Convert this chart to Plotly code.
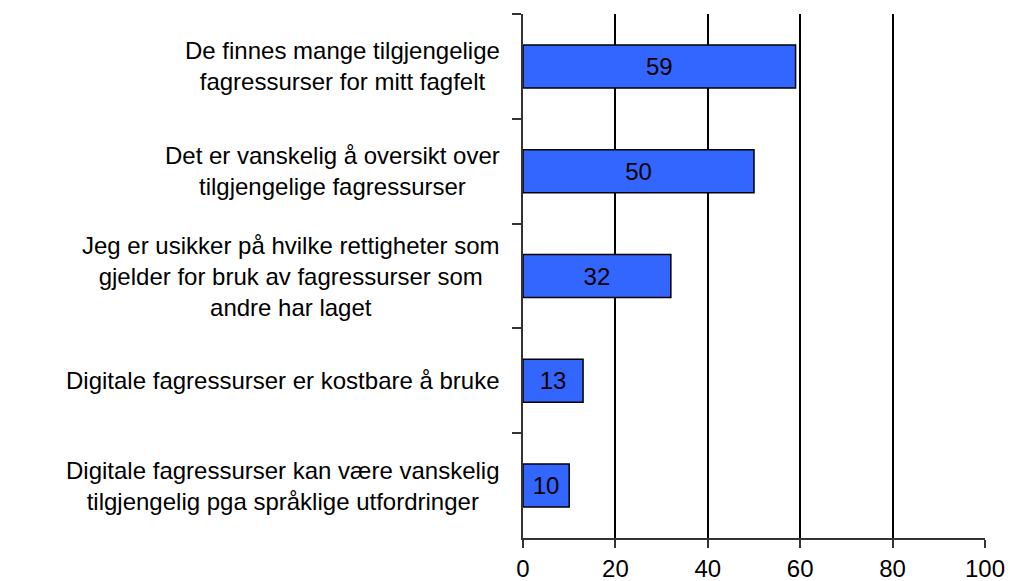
import plotly.graph_objects as go

categories = [
    "De finnes mange tilgjengelige<br>fagressurser for mitt fagfelt",
    "Det er vanskelig å oversikt over<br>tilgjengelige fagressurser",
    "Jeg er usikker på hvilke rettigheter som<br>gjelder for bruk av fagressurser som<br>andre har laget",
    "Digitale fagressurser er kostbare å bruke",
    "Digitale fagressurser kan være vanskelig<br>tilgjengelig pga språklige utfordringer",
]
values = [59, 50, 32, 13, 10]
x_ticks = [0, 20, 40, 60, 80, 100]

FONT = "Liberation Sans, Arial, sans-serif"

fig = go.Figure()
fig.add_trace(go.Bar(
    x=values,
    y=categories,
    orientation="h",
    marker=dict(color="#3366FF", line=dict(color="#000000", width=1.5)),
    text=[str(v) for v in values],
    textposition="inside",
    insidetextanchor="middle",
    constraintext="none",
    textfont=dict(family=FONT, size=24, color="#000000"),
    hoverinfo="x+y",
))

for c in categories:
    fig.add_annotation(
        x=0, xref="paper", y=c, yref="y",
        text=c, showarrow=False,
        xanchor="right", yanchor="middle", align="center",
        xshift=-21,
        font=dict(family=FONT, size=24, color="#000000"),
    )

fig.update_layout(
    width=1010, height=581, autosize=False,
    margin=dict(l=523, r=25, t=14, b=43, autoexpand=False),
    paper_bgcolor="white", plot_bgcolor="white",
    bargap=0.59,
    showlegend=False,
    font=dict(family=FONT, size=24, color="#000000"),
)
fig.update_xaxes(
    range=[0, 100], tickvals=x_ticks, ticktext=[str(t) for t in x_ticks],
    showgrid=True, gridcolor="#000000", gridwidth=1.5,
    showline=True, linecolor="#333333", linewidth=2,
    ticks="outside", ticklen=8, tickcolor="#333333", tickwidth=1.5,
    tickfont=dict(family=FONT, size=24, color="#000000"),
    zeroline=False, fixedrange=True, automargin=False,
)
fig.update_yaxes(
    autorange="reversed",
    categoryorder="array", categoryarray=categories,
    showticklabels=False,
    showline=True, linecolor="#333333", linewidth=2,
    ticks="outside", tickson="boundaries", ticklen=9, tickcolor="#333333", tickwidth=1.5,
    showgrid=False, zeroline=False, fixedrange=True, automargin=False,
)

fig.write_html(
    "out.html",
    config={"responsive": False, "displayModeBar": False},
    post_script="document.body.style.margin='0';document.body.style.padding='0';document.body.style.overflow='hidden';",
)
